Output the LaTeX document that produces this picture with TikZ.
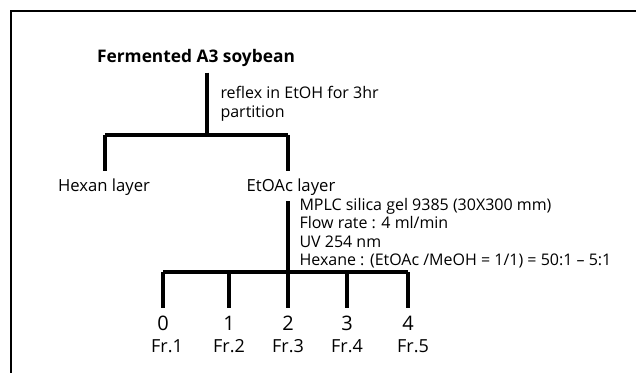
\documentclass[tikz,border=0pt]{standalone}
\usepackage{fontspec}
\setmainfont{Open Sans}
\usetikzlibrary{calc}

\begin{document}
\begin{tikzpicture}[x=0.75pt, y=-0.75pt, line width=2.3pt]
  \tikzset{
    title/.style={font=\fontsize{13}{16}\selectfont\bfseries},
    layer/.style={font=\fontsize{12.5}{14}\selectfont},
    cond/.style={font=\fontsize{12}{13.7}\selectfont, align=left, anchor=north west, inner sep=0pt},
    frac/.style={font=\fontsize{13.5}{16}\selectfont, inner sep=1pt},
    num/.style={font=\fontsize{15}{17}\selectfont, inner sep=1pt}
  }
  \useasboundingbox (0,0) rectangle (636,373);
  \draw[line width=1.5pt] (636,11) -- (11,11) -- (11,373);

  \node[title] (soy) at (196,58) {Fermented A3 soybean};
  \coordinate (P) at (207,135);
  \coordinate (H) at (105,135);
  \coordinate (E) at (288,135);

  \draw (soy.south -| P) -- (P);
  \draw (H) -- (E);
  \draw (H) -- ($(H)+(0,36)$);
  \draw (E) -- ($(E)+(0,36)$);

  \node[cond] (step1) at (219,85) {reflex in EtOH for 3hr\\partition};

  \node[layer] (hexan) at (104,187) {Hexan layer};
  \node[layer] (etoac) at (291,187) {EtOAc layer};

  \coordinate (F) at (288,272);
  \coordinate (L) at (163,272);
  \coordinate (R) at (408,272);
  \draw (etoac.south -| F) -- ($(F)+(0,36)$);
  \draw (L) -- (R);

  \node[cond] (step2) at (298,197)
    {MPLC silica gel 9385 (30X300 mm)\\Flow rate : 4 ml/min\\UV 254 nm\\Hexane : (EtOAc /MeOH = 1/1) = 50:1 -- 5:1};

  \foreach \x/\n in {163/0, 229/1, 288/2, 347/3, 408/4} {
    \draw (\x,272) -- (\x,308);
    \node[num] (num\n) at (\x,323) {\n};
  }
  \foreach \x/\n in {167/1, 229/2, 288/3, 347/4, 413/5}
    \node[frac] (fr\n) at (\x,346) {Fr.\n};
\end{tikzpicture}
\end{document}
